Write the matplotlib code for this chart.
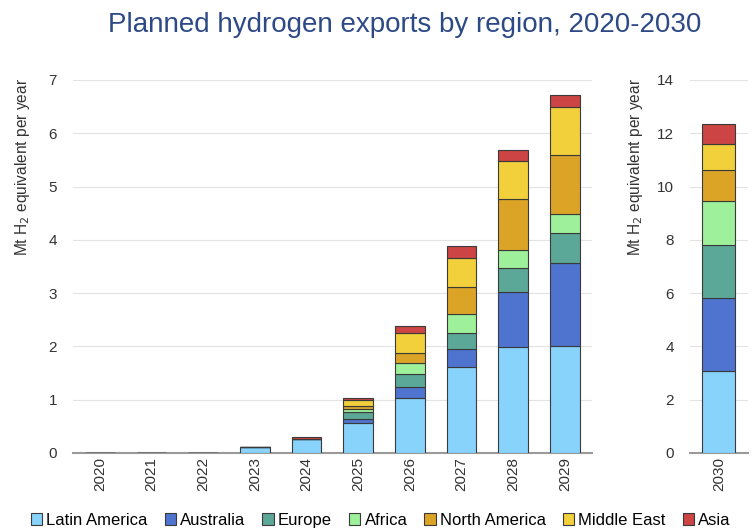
import numpy as np
import matplotlib.pyplot as plt
from matplotlib.patches import Patch

plt.rcParams["font.family"] = ["Liberation Sans", "DejaVu Sans"]

years = ["2020", "2021", "2022", "2023", "2024", "2025", "2026", "2027", "2028", "2029"]
regions = ["Latin America", "Australia", "Europe", "Africa",
           "North America", "Middle East", "Asia"]
colors = ["#87d3fc", "#4e74cf", "#5ca898", "#9ef09a", "#dba426", "#f2d03b", "#cc4444"]

# Mt H2 per year, 2020-2029
latin_america = [0, 0, 0, 0.12, 0.26, 0.57, 1.03, 1.62, 1.99, 2.00]
australia     = [0, 0, 0, 0, 0, 0.06, 0.20, 0.34, 1.04, 1.56]
europe        = [0, 0, 0, 0, 0, 0.14, 0.25, 0.30, 0.44, 0.57]
africa        = [0, 0, 0, 0, 0, 0.06, 0.20, 0.34, 0.34, 0.35]
north_america = [0, 0, 0, 0, 0, 0.05, 0.19, 0.52, 0.95, 1.11]
middle_east   = [0, 0, 0, 0, 0, 0.11, 0.39, 0.53, 0.72, 0.90]
asia          = [0, 0, 0, 0, 0.04, 0.05, 0.13, 0.24, 0.20, 0.23]

# 2030 on its own scale
year_2030 = "2030"
values_2030 = [3.06, 2.75, 1.98, 1.66, 1.19, 0.94, 0.75]

series = [latin_america, australia, europe, africa, north_america, middle_east, asia]

fig = plt.figure(figsize=(7.54, 5.29), dpi=100)
ax = fig.add_axes([0.0968, 0.1437, 0.688, 0.7051])
ax2 = fig.add_axes([0.915, 0.1437, 0.077, 0.7051])

edge = "#3a3a3a"
x = np.arange(len(years))
bottom = np.zeros(len(years))
for vals, c in zip(series, colors):
    vals = np.array(vals)
    ax.bar(x, vals, 0.57, bottom=bottom, color=c, edgecolor=edge, linewidth=0.8, zorder=3)
    bottom += vals

b = 0
for v, c in zip(values_2030, colors):
    ax2.bar(0, v, 0.57, bottom=b, color=c, edgecolor=edge, linewidth=0.8, zorder=3)
    b += v

for a in (ax, ax2):
    for s in ["top", "right", "left"]:
        a.spines[s].set_visible(False)
    a.spines["bottom"].set_color("#9a9a9a")
    a.spines["bottom"].set_linewidth(1.5)
    a.grid(axis="y", color="#e3e3e3", linewidth=0.8, zorder=0)
    a.tick_params(length=0, labelsize=11, colors="#333333")
    a.tick_params(axis="y", pad=11.5)
    a.tick_params(axis="x", pad=3)
    a.set_ylabel("Mt H$_2$ equivalent per year", fontsize=11.2, color="#333333")

ax.set_xlim(-0.52, 9.52)
ax.set_ylim(0, 7)
ax.set_xticks(x)
ax.set_xticklabels(years, rotation=90)
ax.set_yticks(range(0, 8))
ax.yaxis.set_label_coords(-0.079, 0.767)

ax2.set_xlim(-0.5, 0.5)
ax2.set_ylim(0, 14)
ax2.set_xticks([0])
ax2.set_xticklabels([year_2030], rotation=90)
ax2.set_yticks(range(0, 15, 2))
ax2.yaxis.set_label_coords(-0.776, 0.767)

fig.text(0.537, 0.952, "Planned hydrogen exports by region, 2020-2030",
         ha="center", va="center", fontsize=20, color="#2e4a86")

handles = [Patch(facecolor=c, edgecolor=edge, linewidth=0.8) for c in colors]
fig.legend(handles, regions, loc="center", bbox_to_anchor=(0.505, 0.017),
           ncol=7, frameon=False, fontsize=12, handlelength=0.7, handleheight=0.7,
           handletextpad=0.25, columnspacing=1.0, borderpad=0)

fig.savefig("out.png", dpi=100)
